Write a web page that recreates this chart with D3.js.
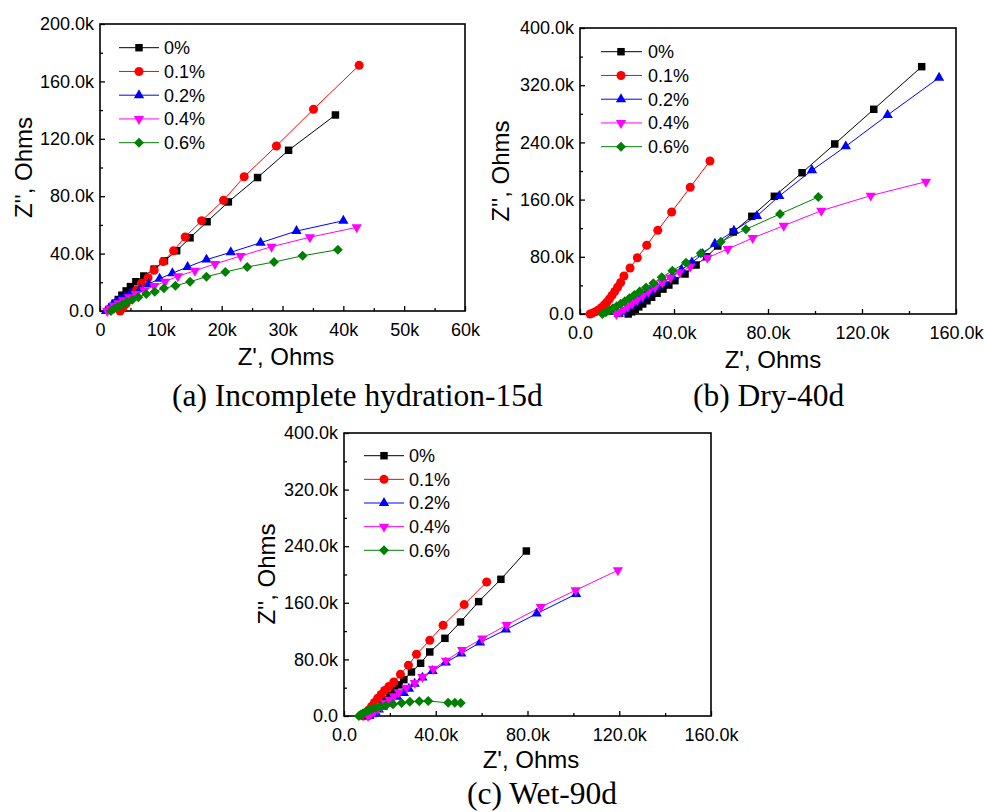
<!DOCTYPE html>
<html><head><meta charset="utf-8">
<script src="https://cdn.jsdelivr.net/npm/d3@7"></script>
<style>body{margin:0;background:#fff}</style>
</head><body>
<svg id="chart" width="984" height="812"></svg>
<script>
// ---------- DATA ----------
const seriesNames = ["0%", "0.1%", "0.2%", "0.4%", "0.6%"];
const seriesColors = ["#000000", "#ff0000", "#0000ff", "#ff00ff", "#008000"];
const seriesShapes = ["square", "circle", "triangle", "triangleDown", "diamond"];

// Panel (a) Incomplete hydration-15d  [Z' (k), Z'' (k)]
const a_0 = [[1.5,0.5],[2.0,3],[2.5,5.5],[3.0,8],[3.6,11],[4.3,14],[5.0,17],[5.9,20.4],[7.2,24.4],[8.9,29.2],[10.6,35],[12.6,42],[14.8,51],[17.6,62.2],[21.1,76],[25.9,93],[31.0,112],[38.7,136.6]];
const a_01 = [[3.3,0],[3.8,2.5],[4.3,5],[4.9,8],[5.4,11],[6.0,14.5],[6.8,19.3],[7.9,23.2],[8.9,28.4],[10.4,34.4],[12.1,42],[14.0,51.6],[16.7,62.9],[20.3,77.1],[23.7,93.6],[29.0,115],[35.1,140.6],[42.6,171.2]];
const a_02 = [[1.0,0],[1.5,2],[2.0,4],[2.6,6],[3.3,8],[4.1,10],[5.0,12.3],[6.6,15.1],[8.0,18.8],[9.8,22.5],[11.9,26.3],[14.4,30.7],[17.5,35.8],[21.5,40.9],[26.4,47.6],[32.3,55.7],[40.0,62.9]];
const a_04 = [[1.2,0],[1.7,1.8],[2.3,3.6],[3.0,5.5],[3.8,7.5],[4.8,9.6],[5.9,11.8],[7.3,14.5],[8.9,17.4],[10.7,20.4],[12.8,24.2],[15.6,28.1],[18.9,32.8],[23.1,38.3],[28.2,44.8],[34.5,51.4],[42.2,58.3]];
const a_06 = [[1.8,0],[2.3,1.5],[2.9,3],[3.6,4.6],[4.4,6.3],[5.3,7.9],[6.3,9.5],[7.6,11.8],[9.0,13.5],[10.5,15.8],[12.4,17.6],[14.8,20.4],[17.5,23.9],[20.6,27.2],[24.2,30.7],[28.6,34.1],[33.3,38.5],[39.1,42.7]];

// Panel (b) Dry-40d
const b_0 = [[20.5,0],[22,3],[23.5,6.5],[25,10],[26.7,14],[28.5,18.5],[30.5,23.5],[32.8,29],[35.3,34.8],[37.8,40.5],[40.4,46.6],[44.7,55.9],[49.4,68.5],[53.9,80.1],[58.6,95.1],[65.2,114.7],[73.1,136.6],[82.7,164.6],[94.5,197.6],[108.4,237.8],[125.0,286.3],[145.4,345.9]];
const b_01 = [[4.3,0],[5.5,1.5],[6.8,3.5],[8.0,6],[9.2,9],[10.3,12.5],[11.4,16.5],[12.5,21],[13.6,26],[14.8,31.5],[16.0,37.5],[17.3,44],[18.7,53.1],[21.3,64.3],[24.4,78.7],[28.4,96.1],[33.1,117],[39.0,142.7],[46.9,177.2],[55.3,214]];
const b_02 = [[16.5,0],[18,3],[19.6,6.5],[21.3,10.5],[23.2,15],[25.3,20],[27.6,25.5],[30.1,31.5],[32.8,38],[35.8,45],[39.2,53],[43.2,62],[47.6,72],[52.2,84],[57.4,98.3],[65.5,116.5],[75.3,137],[84.8,165],[98.7,201],[113.1,234.5],[130.9,278.3],[152.8,330.5]];
const b_04 = [[15.5,0],[17,3],[18.6,6.5],[20.3,10.5],[22.2,15],[24.3,20],[26.6,25.5],[29.1,31.5],[31.9,37.5],[35.0,44],[38.5,51],[42.4,58.5],[46.9,66],[54.2,78.7],[62.9,90.9],[73.5,106.3],[86.7,123.5],[102.7,144.5],[123.7,165.5],[147.2,185]];
const b_06 = [[9.5,0],[11,2.5],[12.5,5],[14,8],[15.6,11],[17.3,14.5],[19.1,18],[21,22],[23.1,26.5],[25.4,31.5],[28.1,37],[31.2,42.9],[34.8,51.3],[39.3,60.6],[45.1,71.8],[51.4,84.9],[59.9,101.1],[70.6,118.5],[85.1,139.9],[101.4,163.6]];

// Panel (c) Wet-90d
const c_0 = [[10,0],[11.5,3],[13,7],[14.6,11.5],[16.3,17],[18.1,23],[20,29.5],[22,36.5],[24,44],[26.1,51.4],[29.4,62.2],[33.4,74.5],[37.4,90.5],[44.0,109.8],[50.8,132.9],[58.7,161.7],[68.4,193.2],[79.5,233.2]];
const c_01 = [[8.5,0],[9.6,4],[10.8,8.5],[12,13.5],[13.3,19],[14.7,25],[16.2,30.5],[17.7,36],[19.5,41.5],[21.7,48.1],[24.6,58.9],[28.1,71.7],[31.6,87.2],[37.4,107],[43.2,128.2],[52.4,157.5],[62.2,189.4]];
const c_02 = [[11,0],[12.3,2.5],[13.7,5.5],[15.2,9],[16.9,13],[18.7,17.5],[20.6,22],[23.2,27],[26.1,32.5],[28.3,38.5],[30.8,45.5],[34.2,54.3],[38.6,63.6],[44.4,75.5],[51.1,88.2],[59.3,103.7],[70.6,122.1],[84.0,144.7],[101.2,172.4]];
const c_04 = [[10.5,0],[11.8,3],[13.2,6.5],[14.7,10],[16.3,14],[18,18.5],[19.9,23],[21.8,28],[23.9,33.5],[27.2,40.1],[30.9,46.6],[34.2,55.1],[38.9,66.4],[44.5,78.3],[51.5,93.3],[60.3,109.4],[70.9,128.6],[85.8,154.1],[101.0,177.7],[119.4,206]];
const c_06 = [[6.5,0],[7.3,2],[8.3,4],[9.5,6],[10.8,8],[12.3,10],[14,11.8],[15.9,13.5],[18.3,15],[21.4,16.5],[25.1,18.4],[28.7,20.2],[32.8,21],[36.7,21.2],[45.4,18.6],[48.3,18.6],[50.9,18.4]];

// Axis ticks
const a_xTicks = [0, 10, 20, 30, 40, 50, 60];
const a_yTicks = [0, 40, 80, 120, 160, 200];
const bc_xTicks = [0, 40, 80, 120, 160];
const bc_yTicks = [0, 80, 160, 240, 320, 400];

const captions = ["(a) Incomplete hydration-15d", "(b) Dry-40d", "(c) Wet-90d"];
const xTitle = "Z', Ohms";
const yTitle = "Z'', Ohms";

// ---------- LAYOUT ----------
const panels = [
  { data: [a_0, a_01, a_02, a_04, a_06], left: 100, right: 465, top: 24, bottom: 311,
    xDom: [0, 60], yDom: [0, 200], xTicks: a_xTicks, yTicks: a_yTicks, xMinor: 5, yMinor: 20,
    xFmt: v => v === 0 ? "0" : v + "k",
    leg: { x0: 119, x1: 159, mx: 139, tx: 164, y0: 47.7, dy: 23.75 },
    xTitle: [286, 357], yTitle: [24, 167.5], cap: [172, 406] },
  { data: [b_0, b_01, b_02, b_04, b_06], left: 580, right: 956, top: 28, bottom: 314,
    xDom: [0, 160], yDom: [0, 400], xTicks: bc_xTicks, yTicks: bc_yTicks, xMinor: 20, yMinor: 40,
    xFmt: v => v === 0 ? "0.0" : v.toFixed(1) + "k",
    leg: { x0: 601, x1: 642, mx: 621, tx: 648, y0: 51.7, dy: 23.75 },
    xTitle: [773, 360], yTitle: [501, 171], cap: [693, 406] },
  { data: [c_0, c_01, c_02, c_04, c_06], left: 344, right: 711, top: 433, bottom: 716,
    xDom: [0, 160], yDom: [0, 400], xTicks: bc_xTicks, yTicks: bc_yTicks, xMinor: 20, yMinor: 40,
    xFmt: v => v === 0 ? "0.0" : v.toFixed(1) + "k",
    leg: { x0: 364, x1: 404, mx: 384, tx: 409, y0: 455.7, dy: 23.65 },
    xTitle: [531, 760], yTitle: [267, 574], cap: [467, 804] }
];

const svg = d3.select("#chart");
const SANS = "Arial, 'Liberation Sans', sans-serif";
const SERIF = "'Times New Roman', 'Liberation Serif', serif";

function markerPath(shape) {
  switch (shape) {
    case "square": return d3.symbol(d3.symbolSquare, 56)();
    case "circle": return d3.symbol(d3.symbolCircle, 64)();
    case "triangle": return d3.symbol(d3.symbolTriangle, 46)();
    case "triangleDown": return d3.symbol(d3.symbolTriangle, 46)();
    case "diamond": return d3.symbol(d3.symbolSquare, 50)();
  }
}
function markerTransform(shape, x, y) {
  if (shape === "triangleDown") return `translate(${x},${y}) rotate(180)`;
  if (shape === "diamond") return `translate(${x},${y}) rotate(45)`;
  return `translate(${x},${y})`;
}

panels.forEach((p, pi) => {
  const x = d3.scaleLinear().domain(p.xDom).range([p.left, p.right]);
  const y = d3.scaleLinear().domain(p.yDom).range([p.bottom, p.top]);
  const g = svg.append("g");

  // minor ticks
  const xMinorVals = d3.range(p.xDom[0], p.xDom[1] + 1e-9, p.xMinor).filter(v => !p.xTicks.includes(v));
  const yMinorVals = d3.range(p.yDom[0], p.yDom[1] + 1e-9, p.yMinor).filter(v => !p.yTicks.includes(v));

  g.append("g").attr("transform", `translate(0,${p.bottom})`)
    .call(d3.axisBottom(x).tickValues(xMinorVals).tickSize(-3).tickFormat(""))
    .call(s => s.select(".domain").remove())
    .selectAll("line").attr("stroke", "#000").attr("stroke-width", 1.3);
  g.append("g").attr("transform", `translate(${p.left},0)`)
    .call(d3.axisLeft(y).tickValues(yMinorVals).tickSize(-3).tickFormat(""))
    .call(s => s.select(".domain").remove())
    .selectAll("line").attr("stroke", "#000").attr("stroke-width", 1.3);

  // major axes
  const xa = g.append("g").attr("transform", `translate(0,${p.bottom})`)
    .call(d3.axisBottom(x).tickValues(p.xTicks).tickSize(-5).tickPadding(12).tickFormat(p.xFmt));
  xa.select(".domain").remove();
  xa.selectAll("line").attr("stroke", "#000").attr("stroke-width", 1.3);
  xa.selectAll("text").attr("font-family", SANS).attr("font-size", 18).attr("fill", "#000");

  const ya = g.append("g").attr("transform", `translate(${p.left},0)`)
    .call(d3.axisLeft(y).tickValues(p.yTicks).tickSize(-5).tickPadding(6)
      .tickFormat(v => v === 0 ? "0.0" : v.toFixed(1) + "k"));
  ya.select(".domain").remove();
  ya.selectAll("line").attr("stroke", "#000").attr("stroke-width", 1.3);
  ya.selectAll("text").attr("font-family", SANS).attr("font-size", 18).attr("fill", "#000");

  // frame
  g.append("rect").attr("x", p.left).attr("y", p.top)
    .attr("width", p.right - p.left).attr("height", p.bottom - p.top)
    .attr("fill", "none").attr("stroke", "#000").attr("stroke-width", 1.6);

  // series
  const line = d3.line().x(d => x(d[0])).y(d => y(d[1]));
  p.data.forEach((ser, si) => {
    g.append("path").datum(ser).attr("d", line)
      .attr("fill", "none").attr("stroke", seriesColors[si]).attr("stroke-width", 1);
  });
  p.data.forEach((ser, si) => {
    g.append("g").selectAll("path").data(ser).join("path")
      .attr("d", markerPath(seriesShapes[si]))
      .attr("transform", d => markerTransform(seriesShapes[si], x(d[0]), y(d[1])))
      .attr("fill", seriesColors[si]);
  });

  // legend
  seriesNames.forEach((name, si) => {
    const ly = p.leg.y0 + si * p.leg.dy;
    g.append("line").attr("x1", p.leg.x0).attr("x2", p.leg.x1).attr("y1", ly).attr("y2", ly)
      .attr("stroke", seriesColors[si]).attr("stroke-width", 1);
    g.append("path").attr("d", markerPath(seriesShapes[si]))
      .attr("transform", markerTransform(seriesShapes[si], p.leg.mx, ly))
      .attr("fill", seriesColors[si]);
    g.append("text").attr("x", p.leg.tx).attr("y", ly).attr("dy", "0.35em")
      .attr("font-family", SANS).attr("font-size", 18).attr("fill", "#000").text(name);
  });

  // axis titles
  g.append("text").attr("x", p.xTitle[0]).attr("y", p.xTitle[1]).attr("dy", "0.35em")
    .attr("text-anchor", "middle").attr("font-family", SANS).attr("font-size", 24).text(xTitle);
  g.append("text").attr("transform", `translate(${p.yTitle[0]},${p.yTitle[1]}) rotate(-90)`)
    .attr("dy", "0.35em").attr("text-anchor", "middle")
    .attr("font-family", SANS).attr("font-size", 24).text(yTitle);

  // caption
  g.append("text").attr("x", p.cap[0]).attr("y", p.cap[1])
    .attr("font-family", SERIF).attr("font-size", 31.5).attr("fill", "#000").text(captions[pi]);
});
</script>
</body></html>
